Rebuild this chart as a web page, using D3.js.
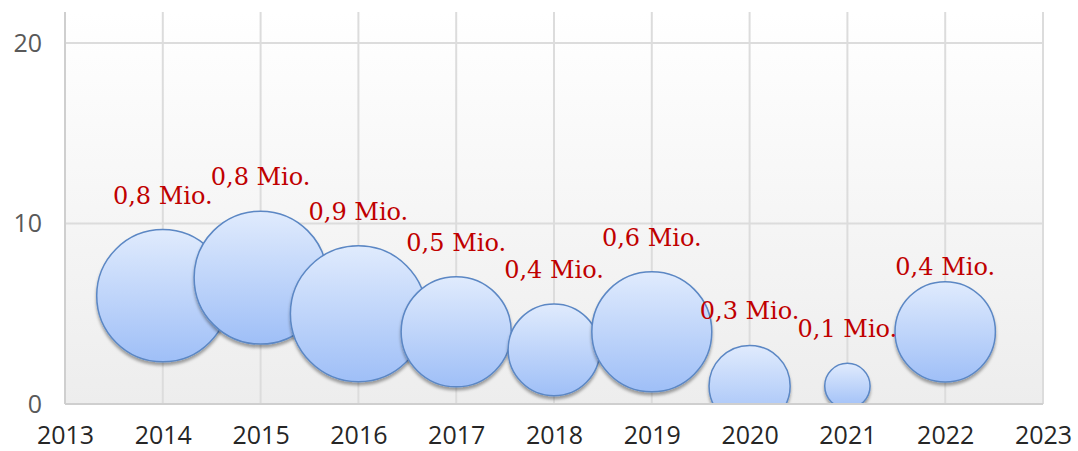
<!DOCTYPE html>
<html>
<head>
<meta charset="utf-8">
<script src="https://cdn.jsdelivr.net/npm/d3@7"></script>
<style>
  body { margin: 0; background: #fff; }
</style>
</head>
<body>
<script>
// data
var years = [2014, 2015, 2016, 2017, 2018, 2019, 2020, 2021, 2022];
var yValues = [6, 7, 5, 4, 3, 4, 1, 1, 4];
var sizes = [0.85, 0.86, 0.9, 0.59, 0.41, 0.7, 0.32, 0.1, 0.49]; // Mio.
var labels = ["0,8 Mio.", "0,8 Mio.", "0,9 Mio.", "0,5 Mio.", "0,4 Mio.", "0,6 Mio.", "0,3 Mio.", "0,1 Mio.", "0,4 Mio."];
var xTicks = [2013, 2014, 2015, 2016, 2017, 2018, 2019, 2020, 2021, 2022, 2023];
var yTicks = [0, 10, 20];

var width = 1078, height = 451;
var plotLeft = 65, plotRight = 1043, plotTop = 12, plotBottom = 404;

var svg = d3.select("body")
  .append("svg")
  .attr("width", width)
  .attr("height", height);

// scales
var x = d3.scaleLinear().domain([2013, 2023]).range([plotLeft, plotRight]);
var y = d3.scaleLinear().domain([0, 20]).range([plotBottom, 43]);
var r = d3.scaleSqrt().domain([0, 0.9]).range([0, 68]);

var defs = svg.append("defs");

var bg = defs.append("linearGradient")
  .attr("id", "bg")
  .attr("x1", 0).attr("y1", 0).attr("x2", 0).attr("y2", 1);
bg.append("stop").attr("offset", "0%").attr("stop-color", "#ffffff");
bg.append("stop").attr("offset", "100%").attr("stop-color", "#ededed");

var bub = defs.append("linearGradient")
  .attr("id", "bub")
  .attr("x1", 0).attr("y1", 0).attr("x2", 0).attr("y2", 1);
bub.append("stop").attr("offset", "0%").attr("stop-color", "#e0ebfd");
bub.append("stop").attr("offset", "100%").attr("stop-color", "#9fbff7");

var shadow = defs.append("filter")
  .attr("id", "shadow")
  .attr("x", "-20%").attr("y", "-20%")
  .attr("width", "140%").attr("height", "140%");
shadow.append("feDropShadow")
  .attr("dx", 0).attr("dy", 3)
  .attr("stdDeviation", 1.5)
  .attr("flood-color", "#000")
  .attr("flood-opacity", 0.35);

// bubbles are cut off at the plot edges
defs.append("clipPath")
  .attr("id", "plotclip")
  .append("rect")
  .attr("x", plotLeft).attr("y", plotTop)
  .attr("width", plotRight - plotLeft).attr("height", plotBottom - plotTop);

// plot background
svg.append("rect")
  .attr("x", plotLeft).attr("y", plotTop)
  .attr("width", plotRight - plotLeft).attr("height", plotBottom - plotTop)
  .attr("fill", "url(#bg)");

// grid lines
svg.selectAll(".vgrid")
  .data(xTicks.slice(1))
  .enter().append("line")
  .attr("class", "vgrid")
  .attr("x1", function(d) { return x(d); })
  .attr("x2", function(d) { return x(d); })
  .attr("y1", plotTop).attr("y2", plotBottom)
  .attr("stroke", "#dcdcdc")
  .attr("stroke-width", 2);

svg.selectAll(".hgrid")
  .data(yTicks.slice(1))
  .enter().append("line")
  .attr("class", "hgrid")
  .attr("x1", plotLeft).attr("x2", plotRight)
  .attr("y1", function(d) { return y(d); })
  .attr("y2", function(d) { return y(d); })
  .attr("stroke", "#dcdcdc")
  .attr("stroke-width", 2);

// axes labels
var xAxis = svg.append("g")
  .attr("transform", "translate(0," + plotBottom + ")")
  .call(d3.axisBottom(x).tickValues(xTicks).tickFormat(d3.format("d")).tickSize(0).tickPadding(22));
xAxis.select(".domain").remove();
xAxis.selectAll("text")
  .attr("font-family", "'Open Sans', sans-serif")
  .attr("font-size", 25)
  .attr("fill", "#262626");

var yAxis = svg.append("g")
  .attr("transform", "translate(" + plotLeft + ",0)")
  .call(d3.axisLeft(y).tickValues(yTicks).tickSize(0).tickPadding(23));
yAxis.select(".domain").remove();
yAxis.selectAll("text")
  .attr("font-family", "'Open Sans', sans-serif")
  .attr("font-size", 25)
  .attr("fill", "#595959");

// bubbles
var data = years.map(function(d, i) {
  return { year: d, value: yValues[i], size: sizes[i], label: labels[i] };
});

svg.append("g")
  .attr("clip-path", "url(#plotclip)")
  .selectAll(".bubble")
  .data(data)
  .enter().append("circle")
  .attr("class", "bubble")
  .attr("cx", function(d) { return x(d.year); })
  .attr("cy", function(d) { return y(d.value); })
  .attr("r", function(d) { return r(d.size); })
  .attr("fill", "url(#bub)")
  .attr("stroke", "#5b87c4")
  .attr("stroke-width", 1.5)
  .attr("filter", "url(#shadow)");

// axis lines
svg.append("line")
  .attr("x1", plotLeft).attr("x2", plotLeft)
  .attr("y1", plotTop).attr("y2", plotBottom)
  .attr("stroke", "#cfcfcf").attr("stroke-width", 2);
svg.append("line")
  .attr("x1", plotLeft).attr("x2", plotRight)
  .attr("y1", plotBottom).attr("y2", plotBottom)
  .attr("stroke", "#cfcfcf").attr("stroke-width", 2);

// labels above the bubbles (the last one sits closer to its bubble)
function labelGap(d) { return d.year === 2022 ? 7 : 26; }

svg.selectAll(".label")
  .data(data)
  .enter().append("text")
  .attr("class", "label")
  .attr("x", function(d) { return x(d.year); })
  .attr("y", function(d) { return y(d.value) - r(d.size) - labelGap(d); })
  .attr("text-anchor", "middle")
  .attr("font-family", "'DejaVu Serif', serif")
  .attr("font-size", 24)
  .attr("fill", "#c00000")
  .text(function(d) { return d.label; });
</script>
</body>
</html>
